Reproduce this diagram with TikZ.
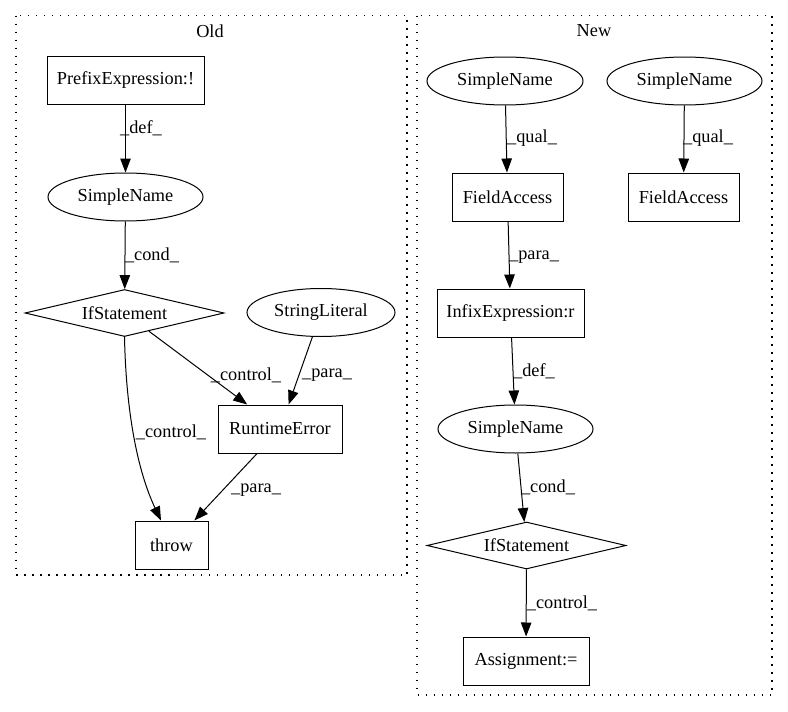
\documentclass[tikz,border=0pt]{standalone}
\usepackage{fontspec}
\setmainfont{Liberation Serif}
\usetikzlibrary{shapes.geometric,arrows.meta}
\begin{document}
\begin{tikzpicture}[x=1pt,y=-1pt,
  every node/.style={font=\fontsize{18.3}{22}\selectfont, inner sep=0pt},
  box/.style={draw, rectangle, line width=1pt, minimum height=48pt},
  oval/.style={draw, ellipse, line width=1pt, minimum height=48pt},
  dia/.style={draw, diamond, line width=1pt, aspect=4.5, minimum width=199pt, minimum height=47pt},
  conn/.style={draw, line width=1pt, -{Triangle[length=14pt,width=10.5pt]}},
  lbl/.style={},
  cluster/.style={draw, line width=1.3pt, dash pattern=on 1.3pt off 6.7pt}]
\useasboundingbox (0,0) rectangle (788,712);
% clusters
\draw[cluster] (16,15.5) rectangle (407,575);
\draw[cluster] (417,15.5) rectangle (772,695);
\node[lbl] (oldlbl) at (210,31) {Old};
\node[lbl] (newlbl) at (594,31) {New};
% Old nodes
\node[box, minimum width=157pt] (pre) at (125.5,80.5) {PrefixExpression:!};
\node[oval, minimum width=155pt] (sn1) at (125.5,197) {SimpleName};
\node[dia] (ifo) at (124.5,313) {IfStatement};
\node[oval, minimum width=148pt] (sl) at (321,312.5) {StringLiteral};
\node[box, minimum width=124pt] (re) at (280,429) {RuntimeError};
\node[box, minimum width=73pt] (thr) at (171.5,545) {throw};
% New nodes
\node[oval, minimum width=156pt] (nsn1) at (505,81) {SimpleName};
\node[oval, minimum width=155pt] (nsn2) at (684.5,81) {SimpleName};
\node[box, minimum width=111pt] (fa1) at (507.5,197) {FieldAccess};
\node[box, minimum width=111pt] (fa2) at (683.5,197) {FieldAccess};
\node[box, minimum width=147pt] (inf) at (510.5,313) {InfixExpression:r};
\node[oval, minimum width=155pt] (nsn3) at (515.5,429) {SimpleName};
\node[dia] (ifn) at (526.5,545.5) {IfStatement};
\node[box, minimum width=126pt] (asg) at (526,661) {Assignment:=};
% Old edges
\draw[conn] (pre) -- (sn1);
\draw[conn] (sn1) -- (ifo);
\draw[conn] (ifo) -- (re);
\draw[conn] (sl) -- (re);
\draw[conn] (ifo.south) .. controls (126,410) and (137,470) .. ([xshift=-10.5pt]thr.north);
\draw[conn] (re) -- (thr);
% New edges
\draw[conn] (nsn1) -- (fa1);
\draw[conn] (nsn2) -- (fa2);
\draw[conn] (fa1) -- (inf);
\draw[conn] (inf) -- (nsn3);
\draw[conn] (nsn3) -- (ifn);
\draw[conn] (ifn) -- (asg);
% edge labels
\node[lbl] (l1) at (141,128) {\_def\_};
\node[lbl] (l2) at (152,255) {\_cond\_};
\node[lbl] (l3) at (246,375) {\_control\_};
\node[lbl] (l4) at (327,375) {\_para\_};
\node[lbl] (l5) at (171,432) {\_control\_};
\node[lbl] (l6) at (256,490) {\_para\_};
\node[lbl] (l7) at (532,138) {\_qual\_};
\node[lbl] (l8) at (708,138) {\_qual\_};
\node[lbl] (l9) at (534,257) {\_para\_};
\node[lbl] (l10) at (534,371) {\_def\_};
\node[lbl] (l11) at (548,487) {\_cond\_};
\node[lbl] (l12) at (562,603) {\_control\_};
\end{tikzpicture}
\end{document}
